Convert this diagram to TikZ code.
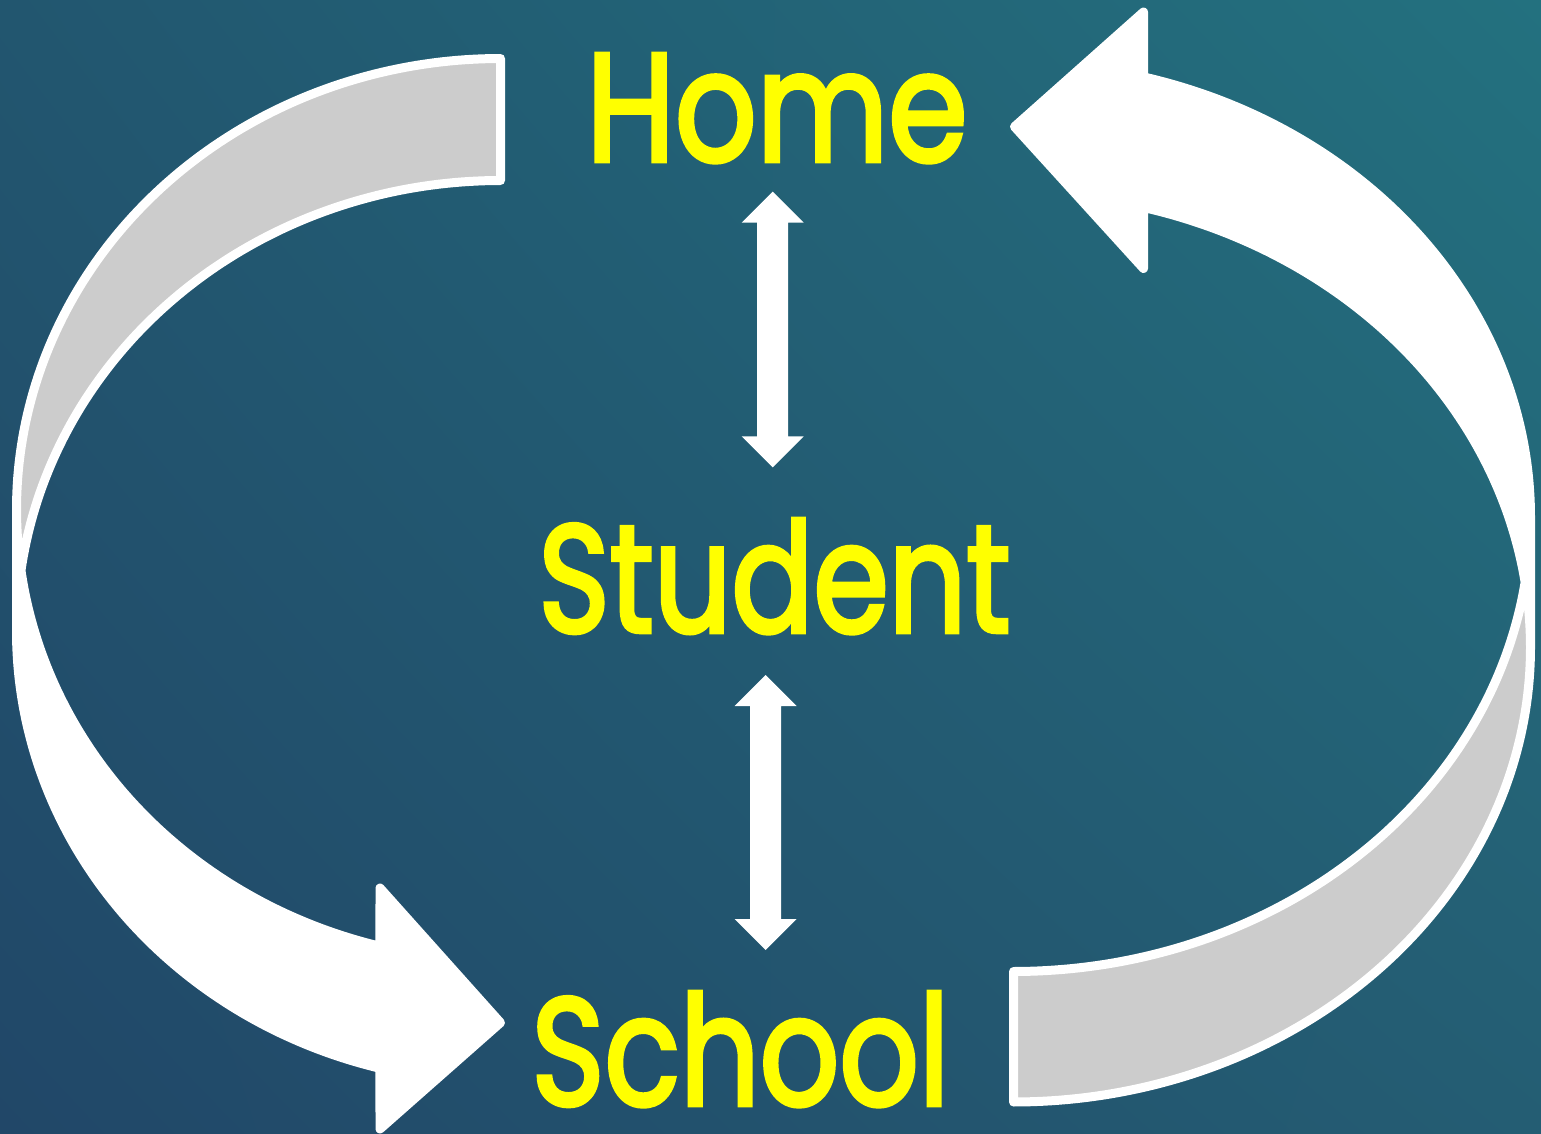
\documentclass[tikz,border=0pt]{standalone}
\usepackage{fontspec}
\newfontfamily\popfont{Poppins}[FakeBold=3]
\usetikzlibrary{calc,shadings}
\definecolor{bgTL}{HTML}{22566F}
\definecolor{bgTR}{HTML}{23717F}
\definecolor{bgBL}{HTML}{214768}
\definecolor{bgBR}{HTML}{245D73}
\definecolor{bandgray}{HTML}{CCCCCC}
\definecolor{txtyellow}{HTML}{FFFF00}
\newcommand\dblarrow[2]{%
  \fill[arrowfill] (#1) -- ($(#1)+(31,31)$) -- ($(#1)+(15.5,31)$) -- ($(#2)+(15.5,-31)$)
    -- ($(#2)+(31,-31)$) -- (#2) -- ($(#2)+(-31,-31)$) -- ($(#2)+(-15.5,-31)$)
    -- ($(#1)+(-15.5,31)$) -- ($(#1)+(-31,31)$) -- cycle;}
\begin{document}
\begin{tikzpicture}[x=0.5pt,y=-0.5pt,
  outline/.style={draw=white,line width=4.5pt,line join=round,line cap=round},
  frontband/.style={fill=white},
  backband/.style={fill=bandgray},
  arrowfill/.style={fill=white},
  lbl/.style={inner sep=0pt,outer sep=0pt,text=txtyellow,anchor=base},
  smp/.style={samples=90,variable=\t}]
\useasboundingbox (0,0) rectangle (1541,1134);
\shade[upper left=bgTL, upper right=bgTR, lower left=bgBL, lower right=bgBR] (0,0) rectangle (1541,1134);

% ---- left curved arrow (Home -> School) ----
\def\Lcx{500.5}\def\Lcy{509.5}\def\Lcyy{631.5}\def\Lrx{484}\def\Lry{451}
\fill[frontband] plot[smp,domain=180:104.42] ({\Lcx+\Lrx*cos(\t)},{\Lcy+\Lry*sin(\t)})
  -- (380,888) -- (500.5,1022.7) -- (380,1129)
  -- plot[smp,domain=104.42:180] ({\Lcx+\Lrx*cos(\t)},{\Lcyy+\Lry*sin(\t)}) -- cycle;
\fill[backband] plot[smp,domain=270:172.227] ({\Lcx+\Lrx*cos(\t)},{\Lcy+\Lry*sin(\t)})
  -- plot[smp,domain=187.773:270] ({\Lcx+\Lrx*cos(\t)},{\Lcyy+\Lry*sin(\t)}) -- cycle;
\draw[outline] plot[smp,domain=180:104.42] ({\Lcx+\Lrx*cos(\t)},{\Lcy+\Lry*sin(\t)})
  -- (380,888) -- (500.5,1022.7) -- (380,1129)
  -- plot[smp,domain=104.42:180] ({\Lcx+\Lrx*cos(\t)},{\Lcyy+\Lry*sin(\t)})
  -- plot[smp,domain=180:270] ({\Lcx+\Lrx*cos(\t)},{\Lcy+\Lry*sin(\t)})
  -- plot[smp,domain=270:187.773] ({\Lcx+\Lrx*cos(\t)},{\Lcyy+\Lry*sin(\t)});

% ---- right curved arrow (School -> Home) ----
\def\Rcx{1013.5}\def\Rcy{647.4}\def\Rcyy{516.9}\def\Rrx{517}\def\Rry{454.6}
\fill[frontband] plot[smp,domain=0:-75.43] ({\Rcx+\Rrx*cos(\t)},{\Rcy+\Rry*sin(\t)})
  -- (1143.5,268.5) -- (1014.5,126.7) -- (1143.5,12)
  -- plot[smp,domain=-75.43:0] ({\Rcx+\Rrx*cos(\t)},{\Rcyy+\Rry*sin(\t)}) -- cycle;
\fill[backband] plot[smp,domain=90:-8.252] ({\Rcx+\Rrx*cos(\t)},{\Rcy+\Rry*sin(\t)})
  -- plot[smp,domain=8.252:90] ({\Rcx+\Rrx*cos(\t)},{\Rcyy+\Rry*sin(\t)}) -- cycle;
\draw[outline] plot[smp,domain=0:-75.43] ({\Rcx+\Rrx*cos(\t)},{\Rcy+\Rry*sin(\t)})
  -- (1143.5,268.5) -- (1014.5,126.7) -- (1143.5,12)
  -- plot[smp,domain=-75.43:0] ({\Rcx+\Rrx*cos(\t)},{\Rcyy+\Rry*sin(\t)})
  -- plot[smp,domain=0:90] ({\Rcx+\Rrx*cos(\t)},{\Rcy+\Rry*sin(\t)})
  -- plot[smp,domain=90:8.252] ({\Rcx+\Rrx*cos(\t)},{\Rcyy+\Rry*sin(\t)});

% ---- labels ----
\node[lbl] (home) at (777,161) {\resizebox{190.5pt}{53.5pt}{\popfont Home}};
\node[lbl] (student) at (774.5,632) {\resizebox{236pt}{56.5pt}{\popfont Student}};
\node[lbl] (school) at (740.5,1105) {\resizebox{209pt}{56.5pt}{\popfont School}};

% ---- double arrows ----
\coordinate (ua) at (772.7,191.7);
\coordinate (ub) at (772.7,467.3);
\coordinate (la) at (765.5,675);
\coordinate (lb) at (765.5,950);
\dblarrow{ua}{ub}
\dblarrow{la}{lb}
\end{tikzpicture}
\end{document}
